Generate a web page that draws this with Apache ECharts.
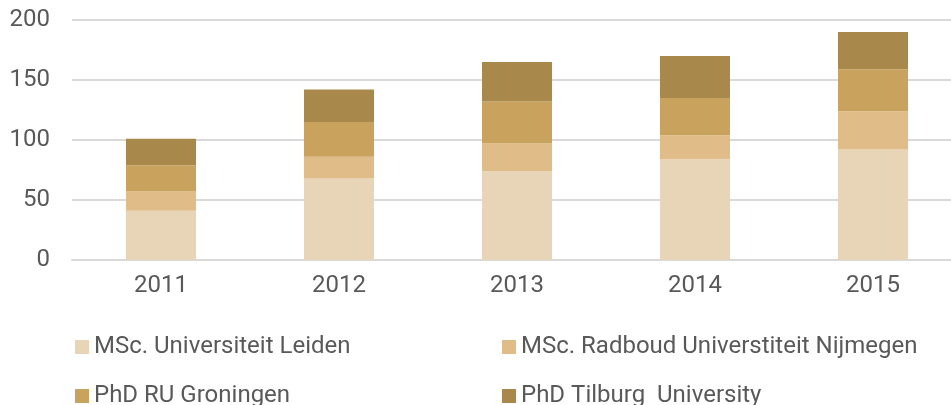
<!DOCTYPE html>
<html>
<head>
<meta charset="utf-8">
<script src="https://cdn.jsdelivr.net/npm/echarts@6/dist/echarts.min.js"></script>
<style>
	html, body { margin: 0; padding: 0; background: #fff; overflow: hidden; }
	#chart { width: 965px; height: 405px; }
</style>
</head>
<body>
<div id="chart"></div>
<script>
const years = ["2011", "2012", "2013", "2014", "2015"];
const seriesNames = [
	"MSc. Universiteit Leiden",
	"MSc. Radboud Universtiteit Nijmegen",
	"PhD RU Groningen",
	"PhD Tilburg  University"
];
const leiden = [41, 68, 74, 84, 92];
const radboud = [16, 18, 23, 20, 32];
const groningen = [22, 29, 35, 31, 35];
const tilburg = [22, 27, 33, 35, 31];
const colors = ["#e8d5b7", "#dfbc88", "#c9a35d", "#a8884b"];

const values = [leiden, radboud, groningen, tilburg];
const textColor = "#595959";
const font = "Roboto";

// one legend per item so each sits where the reference puts it
const legendSpots = [
	{ left: 75, top: 335 },
	{ left: 502, top: 335 },
	{ left: 75, top: 384 },
	{ left: 502, top: 384 }
];

const chart = echarts.init(document.getElementById("chart"));
chart.setOption({
	animation: false,
	color: colors,
	legend: seriesNames.map((name, i) => ({
		data: [name],
		left: legendSpots[i].left,
		top: legendSpots[i].top,
		icon: "rect",
		itemWidth: 14,
		itemHeight: 14,
		itemGap: 5,
		padding: 0,
		textStyle: {
			color: textColor,
			fontFamily: font,
			fontSize: 24,
			padding: [0, 0, 0, 0]
		}
	})),
	grid: {
		left: 72,
		top: 20,
		width: 890,
		height: 240,
		containLabel: false
	},
	xAxis: {
		type: "category",
		data: years,
		axisLine: {
			show: true,
			lineStyle: { color: "#d9d9d9", width: 2 }
		},
		axisTick: { show: false },
		axisLabel: {
			color: textColor,
			fontFamily: font,
			fontSize: 24,
			margin: 14
		}
	},
	yAxis: {
		type: "value",
		min: 0,
		max: 200,
		interval: 50,
		axisLine: { show: false },
		axisTick: { show: false },
		axisLabel: {
			color: textColor,
			fontFamily: font,
			fontSize: 24,
			margin: 22
		},
		splitLine: {
			lineStyle: { color: "#d9d9d9", width: 2 }
		}
	},
	series: seriesNames.map((name, i) => ({
		name: name,
		type: "bar",
		stack: "total",
		barWidth: 70,
		itemStyle: { color: colors[i] },
		data: values[i]
	}))
});
</script>
</body>
</html>
